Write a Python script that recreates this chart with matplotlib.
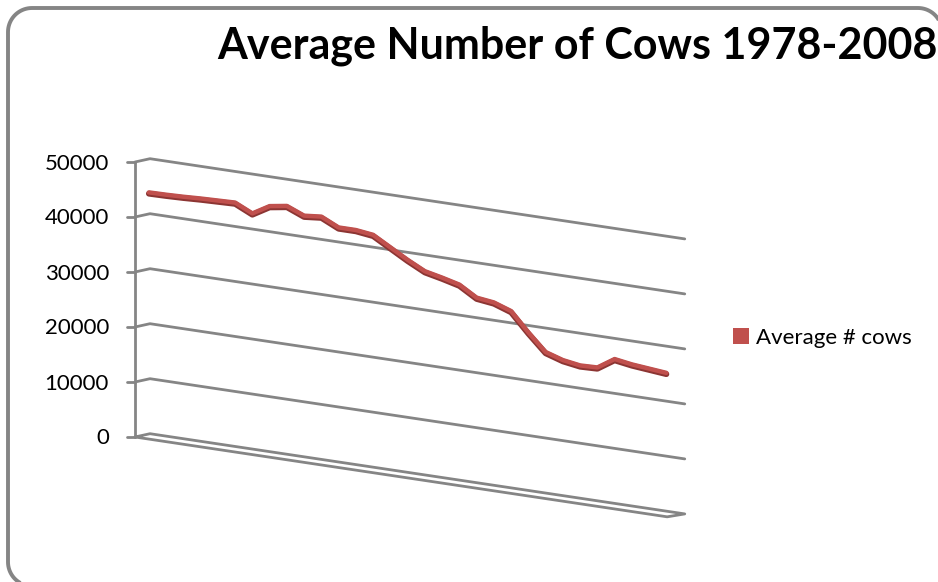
"""Average number of cows 1978-2008, drawn as an oblique 3-D line chart."""
import numpy as np
import matplotlib
matplotlib.use("Agg")
import matplotlib.pyplot as plt
from matplotlib.patches import Patch

plt.rcParams["font.family"] = ["Lato", "DejaVu Sans"]

years = list(range(1978, 2009))
avg_cows = [44500, 44550, 44650, 44800, 44900, 45000, 43500, 45300, 45800, 44500,
            44800, 43300, 43300, 42900, 41100, 39300, 37700, 37000, 36200, 34300,
            33900, 32800, 29400, 26300, 25300, 24800, 24900, 26900, 26400, 26100,
            25800]
value_ticks = [0, 10000, 20000, 30000, 40000, 50000]
series_name = "Average # cows"
title = "Average Number of Cows 1978-2008"

W, H = 938, 582
fig = plt.figure(figsize=(W / 100, H / 100), dpi=100)
ax = fig.add_axes([0, 0, 1, 1])
ax.set_xlim(0, W)
ax.set_ylim(H, 0)
ax.axis("off")

# oblique projection: category position u, value v, depth d (0 front, 1 back)
X0, Y0 = 135, 437
DX, DY = 15, 3.3
SX, SLOPE = 17.25, 0.15
K = 275 / 50000
n_cat = len(years)


def proj(u, v, d):
    u = np.asarray(u, float)
    v = np.asarray(v, float)
    x = X0 + DX * d + SX * u
    y = Y0 - DY * d + SLOPE * SX * u - K * v
    return x, y


grid_kw = dict(color="#858585", lw=2.0, solid_capstyle="round", solid_joinstyle="round")

# gridlines: side wall jag then along the back wall
for v in value_ticks[1:]:
    xs, ys = [], []
    for u, d in [(0, 0), (0, 1), (n_cat, 1)]:
        x, y = proj(u, v, d)
        xs.append(x)
        ys.append(y)
    ax.plot(xs, ys, **grid_kw)

# floor slab
fx, fy = [], []
for u, d in [(0, 0), (0, 1), (n_cat, 1), (n_cat - 0.15, 0), (0, 0)]:
    x, y = proj(u, 0, d)
    fx.append(x)
    fy.append(y)
ax.plot(fx, fy, **grid_kw)

# value axis with tick marks and labels
ax_x, ax_y = proj([0, 0], [0, value_ticks[-1]], 0)
ax.plot(ax_x, ax_y, **grid_kw)
for v in value_ticks:
    x, y = proj(0, v, 0)
    ax.plot([x - 8, x], [y, y], **grid_kw)
    ax.text(x - 26, y + 1.5, f"{v}", ha="right", va="center", fontsize=16, color="black")

# series ribbon
u_pts = np.arange(n_cat) + 0.5
lx, ly = proj(u_pts, avg_cows, 0.35)
ax.plot(lx, ly + 1.3, color="#8c3533", lw=4.2, solid_joinstyle="round", solid_capstyle="round")
ax.plot(lx, ly, color="#c0504d", lw=3.2, solid_joinstyle="round", solid_capstyle="round")

ax.text(577, 46, title, ha="center", va="center", fontsize=31, fontweight="bold")

ax.legend(handles=[Patch(facecolor="#c0504d", edgecolor="none", label=series_name)],
          loc="center left", bbox_to_anchor=(722, 338), bbox_transform=ax.transData,
          frameon=False, fontsize=16, handlelength=0.7, handleheight=0.7,
          handletextpad=0.35, borderpad=0)

# chart border: only the top, left and the corners that reach the canvas
r = 24
left, top, right, bottom = 8, 8, 942, 586
bx, by = [], []
ang = np.radians(np.linspace(90, 180, 20))            # bottom-left corner
bx.extend(left + r + r * np.cos(ang))
by.extend(bottom - r + r * np.sin(ang))
ang = np.radians(np.linspace(180, 270, 20))           # top-left corner
bx.extend(left + r + r * np.cos(ang))
by.extend(top + r + r * np.sin(ang))
ang = np.radians(np.linspace(270, 330, 14))           # start of top-right corner
bx.extend(right - r + r * np.cos(ang))
by.extend(top + r + r * np.sin(ang))
ax.plot(bx, by, color="#858585", lw=2.8, solid_capstyle="butt")

fig.savefig("out.png", dpi=100)
